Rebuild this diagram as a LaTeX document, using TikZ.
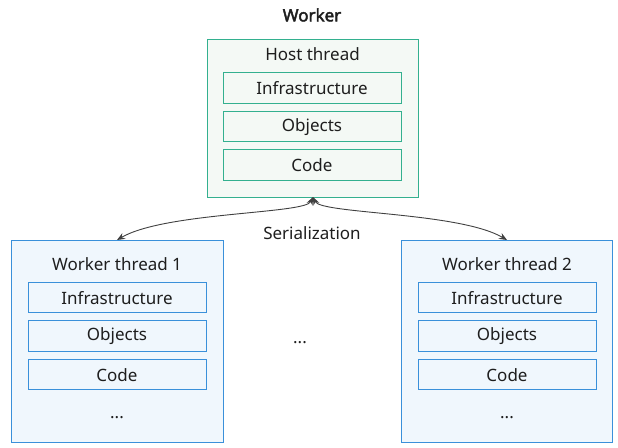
\documentclass[tikz,border=0pt]{standalone}
\usepackage{fontspec}
\setmainfont{Noto Sans}
\newfontfamily\titlefont{Noto Sans}[FakeBold=2.5]
\usetikzlibrary{arrows.meta}
\definecolor{gborder}{HTML}{33B08F}
\definecolor{gfill}{HTML}{F4F9F5}
\definecolor{bborder}{HTML}{3A90DA}
\definecolor{bfill}{HTML}{F0F7FD}
\definecolor{txt}{HTML}{1E1E1E}
\begin{document}
\begin{tikzpicture}[x=1pt,y=-1pt,
  every node/.style={font=\fontsize{17}{20}\selectfont, text=txt},
  gouter/.style={draw=gborder, fill=gfill, line width=0.9pt},
  ginner/.style={draw=gborder, line width=0.9pt},
  bouter/.style={draw=bborder, fill=bfill, line width=0.9pt},
  binner/.style={draw=bborder, line width=0.9pt},
  conn/.style={draw=black!75, line width=0.9pt, {Stealth[length=8pt,width=6.5pt]}-{Stealth[length=8pt,width=6.5pt]}}]
\useasboundingbox (0,0) rectangle (618,447);
% title
\node[font=\titlefont\fontsize{17}{20}\selectfont] (title) at (312,15) {Worker};
% host
\path[gouter] (207,39) rectangle (418,197);
\coordinate (host) at (313,197);
\node (hostlbl) at (312.5,54) {Host thread};
\path[ginner] (223,72) rectangle (401,103);
\node (hinf) at (312,88) {Infrastructure};
\path[ginner] (223,111) rectangle (401,141);
\node (hobj) at (312,127) {Objects};
\path[ginner] (223,149) rectangle (401,180);
\node (hcode) at (312,165) {Code};
% worker 1
\path[bouter] (11,240) rectangle (223,442);
\coordinate (w1) at (117,240);
\node (w1lbl) at (117,264) {Worker thread 1};
\path[binner] (28,282) rectangle (206,312);
\node (w1inf) at (117,298) {Infrastructure};
\path[binner] (28,320) rectangle (206,351);
\node (w1obj) at (117,336) {Objects};
\path[binner] (28,359) rectangle (206,389);
\node (w1code) at (117,375) {Code};
\node (w1dots) at (117,418) {...};
% worker 2
\path[bouter] (401,240) rectangle (612,442);
\coordinate (w2) at (507,240);
\node (w2lbl) at (507,264) {Worker thread 2};
\path[binner] (418,282) rectangle (596,312);
\node (w2inf) at (507,298) {Infrastructure};
\path[binner] (418,320) rectangle (596,351);
\node (w2obj) at (507,336) {Objects};
\path[binner] (418,359) rectangle (596,389);
\node (w2code) at (507,375) {Code};
\node (w2dots) at (507,418) {...};
% middle
\node (mdots) at (300,343) {...};
\node (ser) at (312,233) {Serialization};
% connectors
\draw[conn] (host) .. controls (305,214) and (165,212) .. (w1);
\draw[conn] (host) .. controls (321,214) and (459,212) .. (w2);
\end{tikzpicture}
\end{document}
